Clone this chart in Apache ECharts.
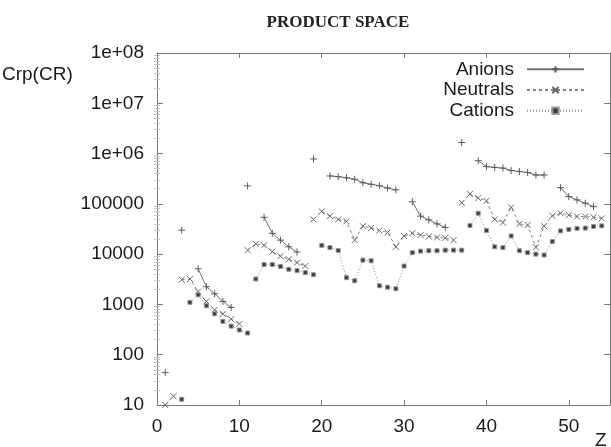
<!DOCTYPE html>
<html><head><meta charset="utf-8">
<script src="https://cdn.jsdelivr.net/npm/echarts@6/dist/echarts.min.js"></script>
<style>html,body{margin:0;padding:0;background:#fff}#c{width:611px;height:447px}</style>
</head><body><div id="c"></div>
<script>
// ---- data ----
const zValues = [1,2,3,4,5,6,7,8,9,10,11,12,13,14,15,16,17,18,19,20,21,22,23,24,25,26,27,
  28,29,30,31,32,33,34,35,36,37,38,39,40,41,42,43,44,45,46,47,48,49,50,51,52,53,54];
const anions = [44,null,30000,null,5100,2250,1630,1150,870,null,
  228000,null,54000,26000,19000,14000,11000,null,
  780000,null,359000,347000,330000,309000,263000,245000,229000,206000,190000,null,
  110000,57000,48000,40000,34000,null,
  1660000,null,720000,550000,530000,515000,460000,440000,420000,375000,375000,null,
  210000,140000,120000,103000,88000,null];
const neutrals = [10,15,3100,3200,1800,1150,780,650,510,410,
  12000,16000,15000,11200,9100,7900,6800,5800,
  49000,71000,57000,49000,45000,19000,36000,33000,29500,27000,14000,23000,
  26000,24000,22500,21500,21000,19000,
  105000,158000,130000,115000,49000,42500,85000,40000,38000,13700,36000,58000,
  65000,60000,56000,56000,54000,51500];
const cations = [null,null,13,1100,1550,940,650,460,370,310,270,
  3200,6200,6200,5700,5000,4700,4300,3900,
  15000,13500,11800,3400,2950,7600,7400,2350,2200,2050,5800,
  10700,11500,11700,11700,12000,12000,12000,
  37000,65000,29500,14000,13500,23000,11700,10700,10000,9600,17800,
  29000,31000,32500,33000,35500,36500];
// line breaks (shell closures) after these Z
const anionBreaksAfter = [1,9,17,35];
const neutralBreaksAfter = [2,10,18,36];
const cationBreaksAfter = [3,11,19,37];
const seriesNames = ['Anions','Neutrals','Cations'];
const xTickValues = [0,10,20,30,40,50];
const yTickValues = [10,100,1000,10000,100000,1e6,1e7,1e8];
const yTickLabels = ['10','100','1000','10000','100000','1e+06','1e+07','1e+08'];
const titleText = 'PRODUCT SPACE';
const yName = 'Crp(CR)';
const xName = 'Z';

// ---- build ----
function build(vals, breaks){
  const out=[];
  zValues.forEach((z,i)=>{
    out.push([z, vals[i]]);
    if (breaks.indexOf(z) >= 0) out.push([z+0.5, null]);
  });
  return out;
}
const yMinor=[];
for (let d=10; d<1e8; d*=10){ for (let k=2;k<=9;k++) yMinor.push(d*k); }

const FONT='Liberation Sans';
const axisColor='#7a7a7a';
const lbl={fontFamily:FONT,fontSize:19,color:'#1a1a1a'};
function yAx(pos, labels, ticks, len, color, line){
  return {type:'log', logBase:10, min:10, max:1e8, position:pos,
    axisLine:{show:line, lineStyle:{color:axisColor,width:1}},
    axisTick:{show:true, inside:true, length:len, customValues:ticks, lineStyle:{color:color,width:1}},
    axisLabel: labels ? Object.assign({show:true, margin:13, customValues:yTickValues,
      formatter:(v)=>{const i=yTickValues.findIndex(t=>Math.abs(t-v)/t<1e-6);return i>=0?yTickLabels[i]:'';}}, lbl) : {show:false},
    splitLine:{show:false}, minorTick:{show:false}};
}
const chart = echarts.init(document.getElementById('c'), null, {renderer:'canvas'});
const plusSym='path://M0,5L10,5M5,0L5,10';
const crossSym='path://M0,0L10,10M0,10L10,0';
chart.setOption({
  animation:false,
  backgroundColor:'#fff',
  title:{text:titleText, left:333, top:9, textAlign:'center',
    textStyle:{fontFamily:'Liberation Serif', fontSize:17, fontWeight:'bold', color:'#222'}},
  grid:{left:157, right:1, top:53, bottom:42, containLabel:false},
  legend:{orient:'vertical', right:21, top:54, align:'right', itemWidth:57, itemHeight:8, itemGap:0,
    data:seriesNames,
    textStyle:Object.assign({lineHeight:20.7, padding:[0,8,0,0]}, lbl), selectedMode:false},
  xAxis:[
    {type:'value', min:0, max:55, interval:10, position:'bottom',
     axisLine:{lineStyle:{color:axisColor,width:1}},
     axisTick:{inside:true,length:5,lineStyle:{color:axisColor}, customValues:xTickValues},
     axisLabel:Object.assign({margin:12, customValues:xTickValues}, lbl),
     splitLine:{show:false}},
    {type:'value', min:0, max:55, interval:10, position:'top',
     axisLine:{lineStyle:{color:axisColor,width:1}},
     axisTick:{inside:true,length:5,lineStyle:{color:axisColor}, customValues:xTickValues},
     axisLabel:{show:false}, splitLine:{show:false}}
  ],
  yAxis:[
    yAx('left', null, yMinor, 3, '#c4c4c4', false),
    yAx('right', null, yMinor, 3, '#c4c4c4', false),
    yAx('left', true, yTickValues, 6, axisColor, true),
    yAx('right', null, yTickValues, 6, axisColor, true)
  ],
  graphic:[
    {type:'text', left:2, top:65, style:{text:yName, font:'19px "Liberation Sans"', fill:'#1a1a1a'}},
    {type:'text', left:595, top:431, style:{text:xName, font:'19px "Liberation Sans"', fill:'#1a1a1a'}}
  ],
  series:[
    {name:seriesNames[0], type:'line', data:build(anions, anionBreaksAfter), connectNulls:false,
     xAxisIndex:0, yAxisIndex:2,
     symbol:plusSym, symbolSize:7, showAllSymbol:true,
     lineStyle:{color:'#707070', width:1, type:'solid'},
     itemStyle:{color:'#707070', borderColor:'#5a5a5a', borderWidth:1}},
    {name:seriesNames[1], type:'line', data:build(neutrals, neutralBreaksAfter), connectNulls:false,
     xAxisIndex:0, yAxisIndex:2,
     symbol:crossSym, symbolSize:6, showAllSymbol:true,
     lineStyle:{color:'#808080', width:1, type:[3,3]},
     itemStyle:{color:'#808080', borderColor:'#666', borderWidth:1}},
    {name:seriesNames[2], type:'line', data:build(cations, cationBreaksAfter), connectNulls:false,
     xAxisIndex:0, yAxisIndex:2,
     symbol:'rect', symbolSize:4, showAllSymbol:true,
     lineStyle:{color:'#8a8a8a', width:1, type:[1,2]},
     itemStyle:{color:'#3a3a3a', borderColor:'#999', borderWidth:1}}
  ]
});
</script></body></html>
